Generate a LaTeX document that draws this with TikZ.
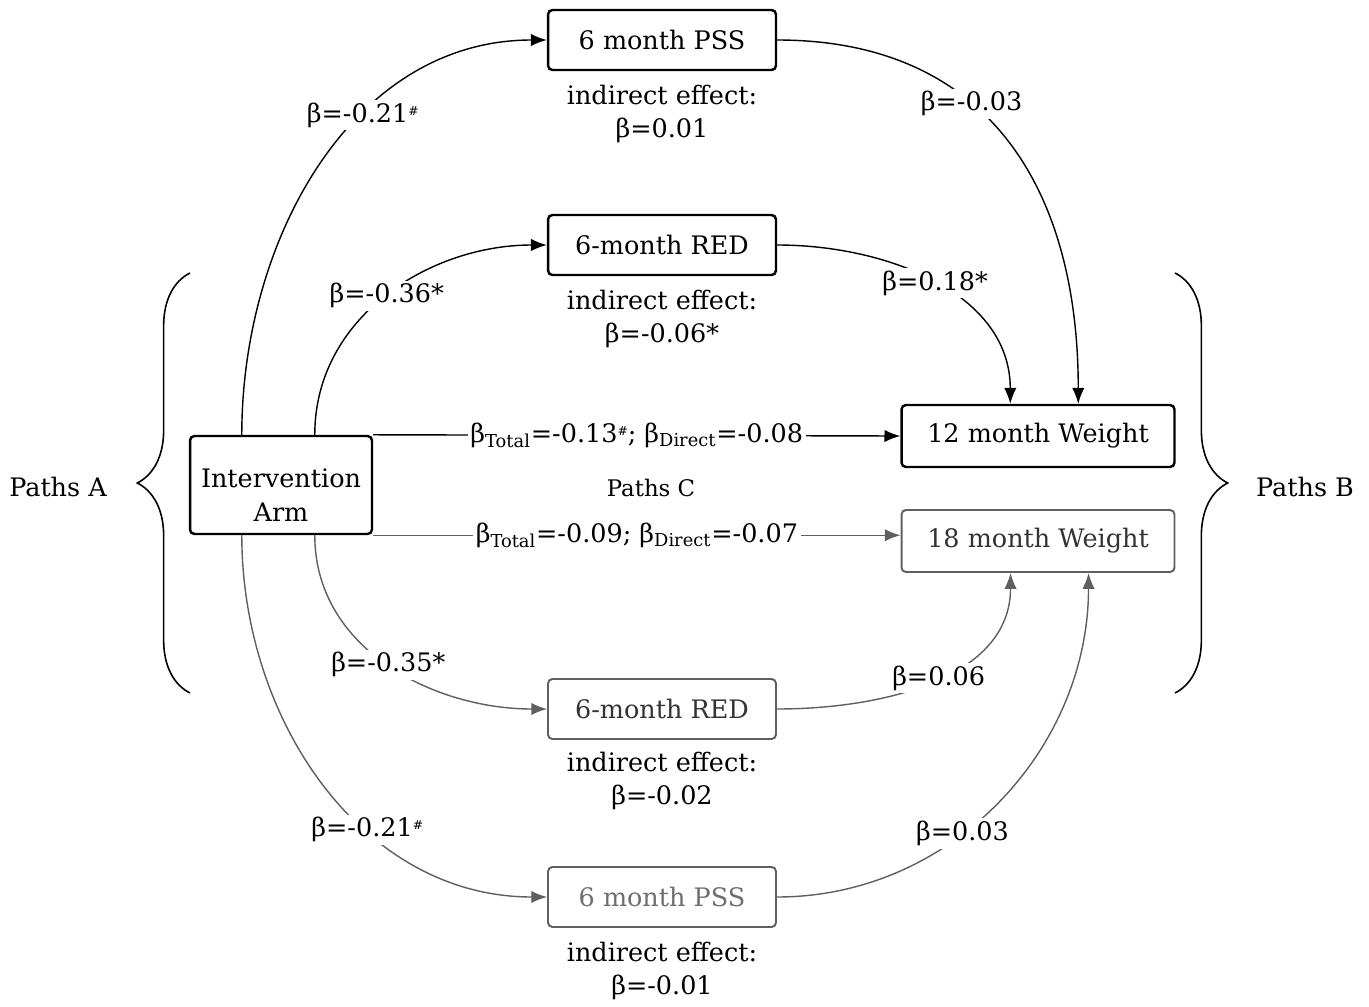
\documentclass[tikz,border=0pt]{standalone}
\usepackage{fontspec}
\setmainfont{DejaVu Serif}
\usepackage{xcolor}
\usepackage{tikz}
\usetikzlibrary{arrows.meta}
\usetikzlibrary{calc}
\usetikzlibrary{positioning}
\usetikzlibrary{decorations.pathreplacing}
\definecolor{fadeline}{HTML}{5F5F5F}
\definecolor{fadetext}{HTML}{333333}
\definecolor{palepss}{HTML}{6E6E6E}
\newcommand{\hsh}{\raisebox{0.55ex}{\fontsize{7}{7}\selectfont\#}}

\begin{document}
\begin{tikzpicture}[->,>={Latex[length=9pt,width=7pt]}, x=0.02cm, y=-0.02cm, line width=0.8pt, font=\fontsize{14.5}{18.8}\selectfont]
 	\tikzstyle{box}=[draw, rounded corners=2.5pt, line width=1.4pt, minimum width=4.56cm, minimum height=1.2cm, inner sep=2pt]
 	\tikzstyle{gbox}=[box, draw=fadeline, line width=1.1pt]
 	\tikzstyle{lbl}=[fill=white, inner sep=1.5pt, text=black]
 	\tikzstyle{note}=[align=center, inner sep=0pt]
 	\useasboundingbox (0,0) rectangle (1369,1007);

	% boxes
	\node[box, minimum width=3.64cm, minimum height=1.96cm, align=center, text height=41pt] (arm) at (281,485) {Intervention\\Arm};
	\node[box] (pss1) at (662,40) {6 month PSS};
	\node[box] (red1) at (662,245) {6-month RED};
	\node[box, minimum width=5.46cm, minimum height=1.24cm] (w12) at (1038,436) {12 month Weight};
	\node[gbox, minimum width=5.46cm, minimum height=1.24cm, text=fadetext] (w18) at (1038,541) {18 month Weight};
	\node[gbox, text=fadetext] (red2) at (662,709) {6-month RED};
	\node[gbox, text=palepss] (pss2) at (662,897) {6 month PSS};

	% indirect effects
	\node[note] (n1) [below=0.26cm of pss1] {indirect effect:\\β=0.01};
	\node[note] (n2) [below=0.26cm of red1] {indirect effect:\\β=-0.06*};
	\node[note] (n3) [below=0.22cm of red2] {indirect effect:\\β=-0.02};
	\node[note] (n4) [below=0.26cm of pss2] {indirect effect:\\β=-0.01};

	% paths A
	\draw ([xshift=1.06cm]arm.north west) to[out=90,in=180] node[lbl,pos=0.62] (a1) {β=-0.21\hsh} (pss1.west);
	\draw ([xshift=2.52cm]arm.north west) to[out=90,in=180] node[lbl,pos=0.5] (a2) {β=-0.36*} (red1.west);
	\draw[fadeline] ([xshift=2.52cm]arm.south west) to[out=-90,in=180] node[lbl,pos=0.5] (a3) {β=-0.35*} (red2.west);
	\draw[fadeline] ([xshift=1.06cm]arm.south west) to[out=-90,in=180] node[lbl,pos=0.62] (a4) {β=-0.21\hsh} (pss2.west);

	% paths B
	\draw (pss1.east) to[out=0,in=90,looseness=1.15] node[lbl,pos=0.39] (b1) {β=-0.03} ([xshift=3.56cm]w12.north west);
	\draw (red1.east) to[out=0,in=90] node[lbl,pos=0.5] (b2) {β=0.18*} ([xshift=2.2cm]w12.north west);
	\draw[fadeline] (red2.east) to[out=0,in=-90] node[lbl,pos=0.52] (b3) {β=0.06} ([xshift=2.2cm]w18.south west);
	\draw[fadeline] (pss2.east) to[out=0,in=-90] node[lbl,pos=0.4] (b4) {β=0.03} ([xshift=3.76cm]w18.south west);

	% paths C
	\draw (arm.north east) -- node[lbl] (c1) {β\textsubscript{Total}=-0.13\hsh; β\textsubscript{Direct}=-0.08} (w12.west);
	\draw[fadeline] (arm.south east) -- node[lbl] (c2) {β\textsubscript{Total}=-0.09; β\textsubscript{Direct}=-0.07} (arm.south east -| w18.west);
	\node[font=\fontsize{13}{15}\selectfont] (pc) at (651,488) {Paths C};

	% braces
	\draw[-, line width=0.9pt, decorate, decoration={brace, amplitude=30pt}] (190,693) -- (190,273);
	\draw[-, line width=0.9pt, decorate, decoration={brace, amplitude=30pt}] (1175,273) -- (1175,693);
	\node (pa) at (58,487) {Paths A};
	\node (pb) at (1305,487) {Paths B};
\end{tikzpicture}
\end{document}
